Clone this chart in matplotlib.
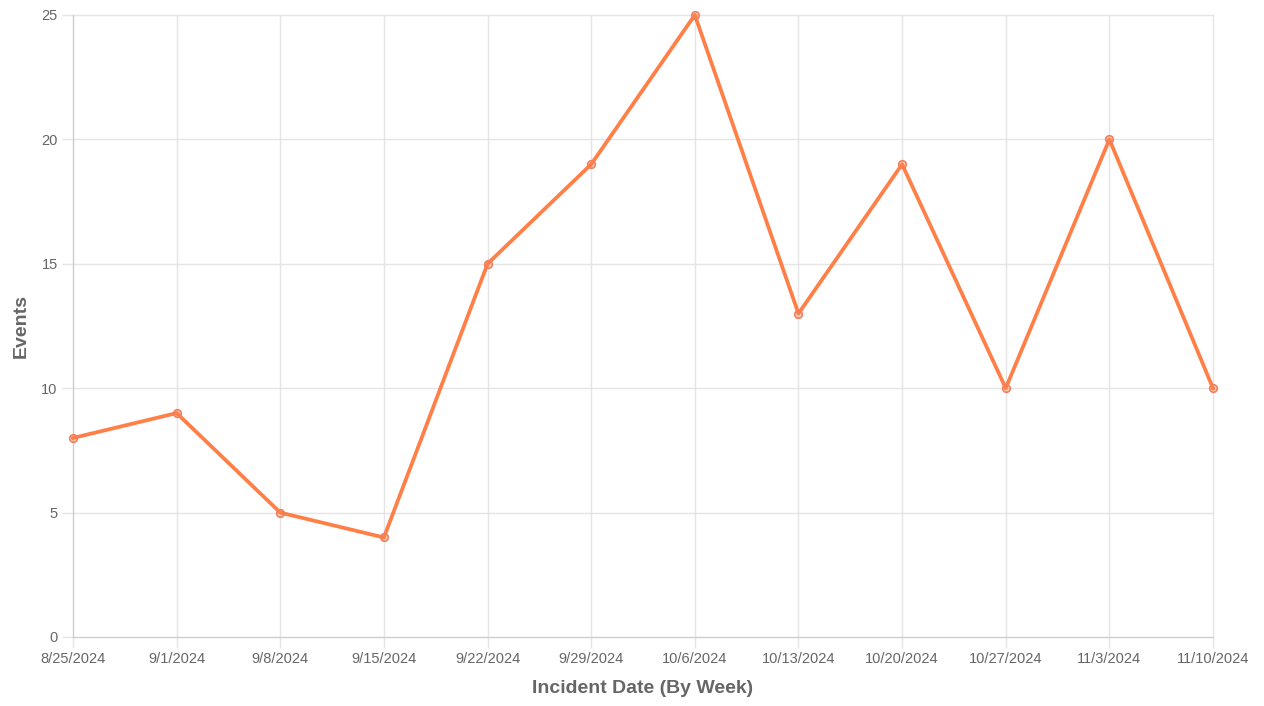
import matplotlib
matplotlib.use('Agg')
import matplotlib.pyplot as plt

weeks = ['8/25/2024', '9/1/2024', '9/8/2024', '9/15/2024', '9/22/2024', '9/29/2024',
         '10/6/2024', '10/13/2024', '10/20/2024', '10/27/2024', '11/3/2024', '11/10/2024']
events = [8, 9, 5, 4, 15, 19, 25, 13, 19, 10, 20, 10]

plt.rcParams['font.family'] = ['Liberation Sans', 'DejaVu Sans']

fig = plt.figure(figsize=(12.64, 7.06), dpi=100)
ax = fig.add_axes([73 / 1264, 1 - 637 / 706, 1140 / 1264, 622 / 706])

x = list(range(len(weeks)))
ax.plot(x, events, color='#ff7f47', linewidth=2.7, zorder=3, clip_on=False)
ax.scatter(x, events, s=30, facecolor=(1, 0.5, 0.28, 0.35), edgecolor='#f08060',
           linewidth=1.2, zorder=4, clip_on=False)

ax.set_xlim(0, len(weeks) - 1)
ax.set_ylim(0, 25)
ax.set_xticks(x)
ax.set_xticklabels(weeks)
ax.set_yticks([0, 5, 10, 15, 20, 25])

ax.grid(True, color='#e5e5e5', linewidth=1)
ax.set_axisbelow(True)
for gl in ax.get_xgridlines() + ax.get_ygridlines():
    gl.set_clip_on(False)
for s in ['top', 'right']:
    ax.spines[s].set_visible(False)
for s in ['left', 'bottom']:
    ax.spines[s].set_color('#cccccc')
ax.tick_params(axis='both', colors='#e5e5e5', labelcolor='#666666', labelsize=10.5, length=8, width=1, pad=3)

ax.set_xlabel('Incident Date (By Week)', fontsize=14, fontweight='bold', color='#666666', labelpad=10)
ax.set_ylabel('Events', fontsize=14, fontweight='bold', color='#666666', labelpad=8)

fig.savefig('out.png', dpi=100)
